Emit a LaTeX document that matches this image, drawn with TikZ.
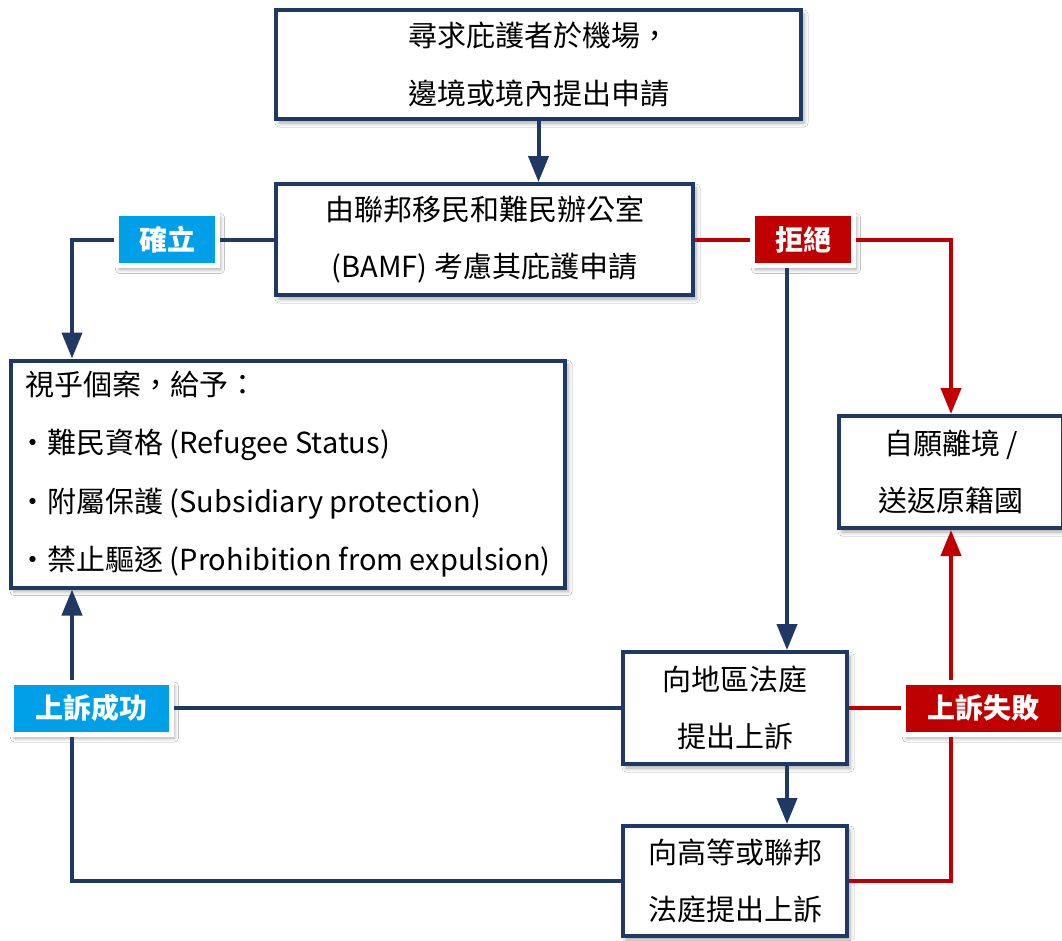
\documentclass[tikz,border=0pt]{standalone}
\usepackage{fontspec}
\setmainfont{Noto Sans CJK TC}
\usetikzlibrary{arrows.meta,shadows.blur,calc}
\definecolor{navy}{HTML}{1F3864}
\definecolor{lblue}{HTML}{00A0E9}
\definecolor{lred}{HTML}{C00000}
\begin{document}
\begin{tikzpicture}[x=1pt,y=-1pt,
  shade/.style={blur shadow={shadow xshift=3pt,shadow yshift=-4pt,shadow blur radius=4pt,shadow opacity=35}},
  box/.style={draw=navy,line width=4pt,fill=white,align=center,inner sep=0pt,
    font=\fontsize{29pt}{57.5pt}\selectfont,shade},
  lab/.style={draw=white,line width=5pt,text=white,inner sep=0pt,minimum height=52pt,
    font=\fontsize{28pt}{34pt}\selectfont\bfseries,shade},
  navyline/.style={draw=navy,line width=4pt},
  redline/.style={draw=lred,line width=4pt},
  tip/.style={-{Triangle[length=26pt,width=20pt]}}
]
\useasboundingbox[fill=white] (0,0) rectangle (1062,940);

% boxes
\node[box,minimum width=525pt,minimum height=109pt] (b1) at (538.5,64.5)
  {尋求庇護者於機場，\\邊境或境內提出申請};
\node[box,minimum width=417pt,minimum height=111pt] (b2) at (484.5,239.5)
  {由聯邦移民和難民辦公室\\(BAMF) 考慮其庇護申請};
\node[box,minimum width=554pt,minimum height=227pt,align=left,
  font=\fontsize{29pt}{58.5pt}\selectfont] (b3) at (288,474)
  {視乎個案，給予：\\
   \hspace*{-7pt}・難民資格 (Refugee Status)\\
   \hspace*{-7pt}・附屬保護 (Subsidiary protection)\\
   \hspace*{-7pt}・禁止驅逐 (Prohibition from expulsion)};
\node[box,minimum width=224pt,minimum height=112pt] (b4) at (951,472)
  {自願離境 /\\送返原籍國};
\node[box,minimum width=224pt,minimum height=112pt] (b5) at (735,708)
  {向地區法庭\\提出上訴};
\node[box,minimum width=224pt,minimum height=110pt] (b6) at (735,881)
  {向高等或聯邦\\法庭提出上訴};

% labels
\node[lab,fill=lblue,minimum width=101pt] (L1) at (167,239.5) {確立};
\node[lab,fill=lred,minimum width=101pt] (L2) at (803,239.5) {拒絕};
\node[lab,fill=lblue,minimum width=160pt] (L3) at (91.5,708) {上訴成功};
\node[lab,fill=lred,minimum width=160pt] (L4) at (983.5,708) {上訴失敗};

% helper coordinates
\coordinate (xa) at (72,0);
\coordinate (xb) at (787,0);
\coordinate (xc) at (951,0);

% connectors
\draw[navyline,tip] (b1.south) -- (b1.south |- b2.north);
\draw[navyline] (b2.west) -- (L1.east);
\draw[navyline,tip] (L1.west) -| (b3.north -| xa);
\draw[redline] (b2.east) -- (L2.west);
\draw[redline,tip] (L2.east) -| (b4.north -| xc);
\draw[navyline,tip] (L2.south -| xb) -- (b5.north -| xb);
\draw[navyline,tip] (b5.south -| xb) -- (b6.north -| xb);
\draw[navyline] (b5.west) -- (L3.east);
\draw[navyline,tip] (L3.north -| xa) -- (b3.south -| xa);
\draw[navyline] (b6.west) -| (L3.south -| xa);
\draw[redline] (b5.east) -- (L4.west);
\draw[redline,tip] (L4.north -| xc) -- (b4.south -| xc);
\draw[redline] (b6.east) -| (L4.south -| xc);
\end{tikzpicture}
\end{document}
